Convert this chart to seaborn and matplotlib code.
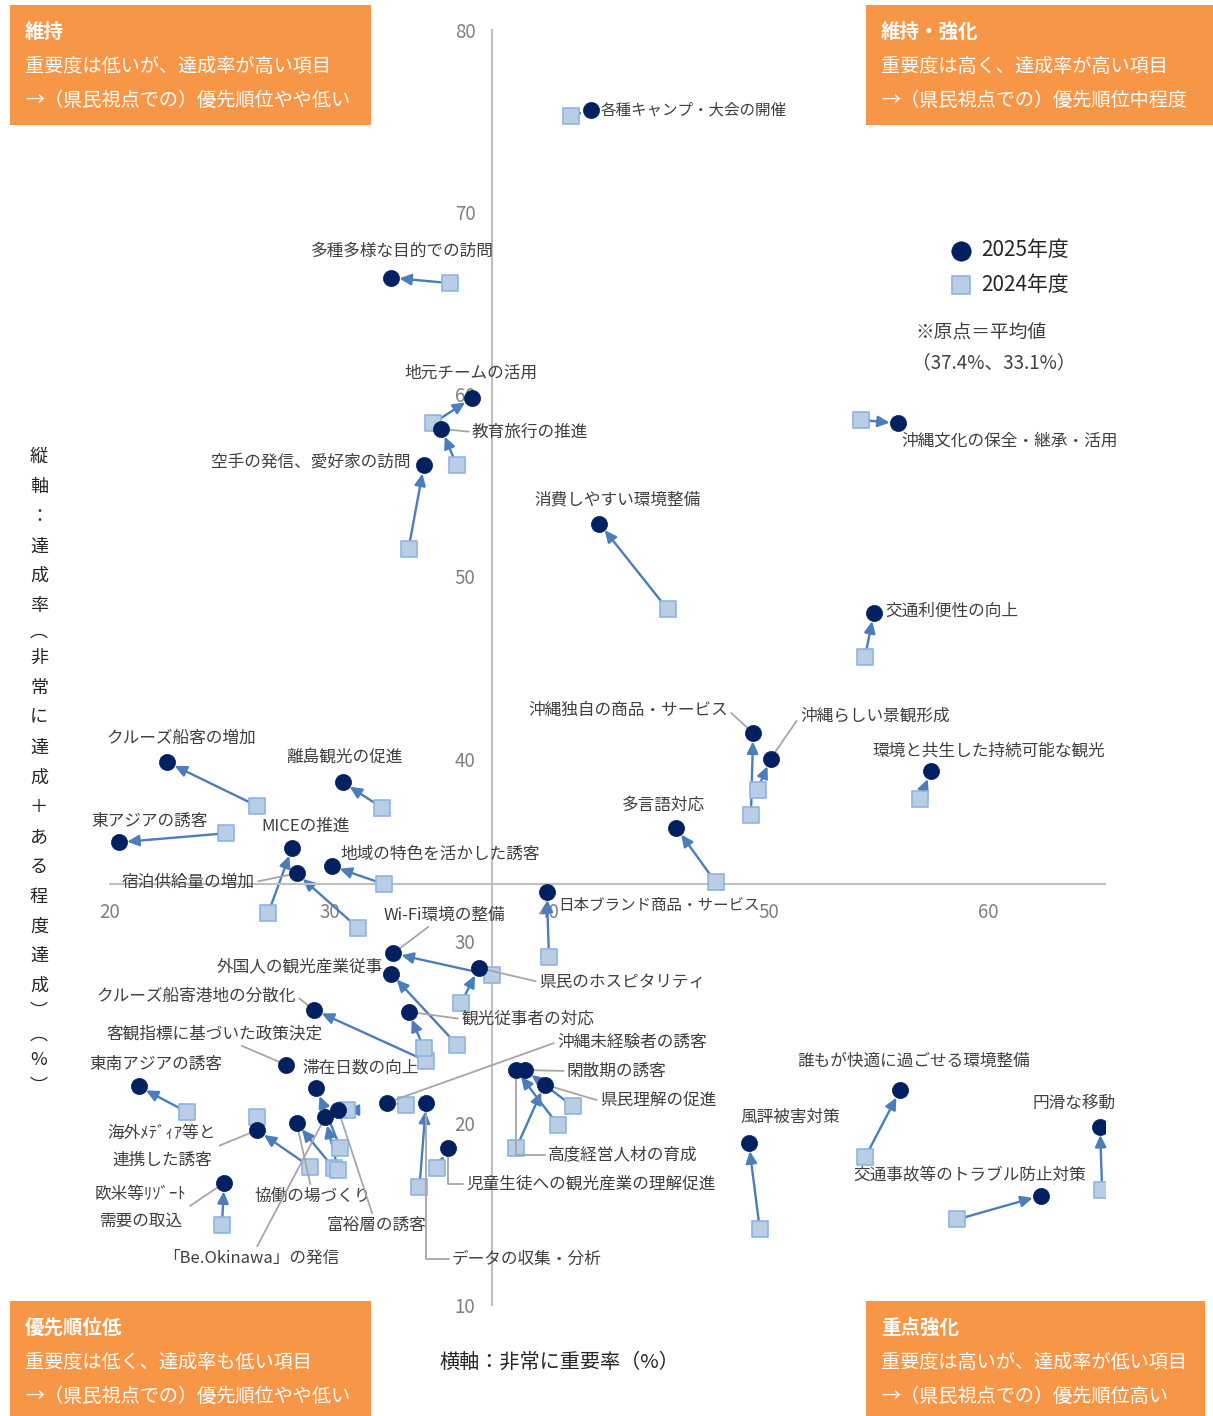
import numpy as np
import pandas as pd
import seaborn as sns
import matplotlib.pyplot as plt
from matplotlib.patches import Rectangle

W, H = 1213, 1416

# --- data -------------------------------------------------------------
items = [
    "各種キャンプ・大会の開催", "多種多様な目的での訪問", "地元チームの活用", "教育旅行の推進",
    "空手の発信、愛好家の訪問", "消費しやすい環境整備", "沖縄文化の保全・継承・活用", "交通利便性の向上",
    "沖縄独自の商品・サービス", "沖縄らしい景観形成", "環境と共生した持続可能な観光", "多言語対応",
    "日本ブランド商品・サービス", "クルーズ船客の増加", "離島観光の促進", "東アジアの誘客",
    "MICEの推進", "宿泊供給量の増加", "地域の特色を活かした誘客", "Wi-Fi環境の整備",
    "外国人の観光産業従事", "県民のホスピタリティ", "クルーズ船寄港地の分散化", "観光従事者の対応",
    "客観指標に基づいた政策決定", "滞在日数の向上", "沖縄未経験者の誘客", "閑散期の誘客",
    "県民理解の促進", "高度経営人材の育成", "東南アジアの誘客", "海外ﾒﾃﾞｨｱ等と\n連携した誘客",
    "協働の場づくり", "富裕層の誘客", "「Be.Okinawa」の発信", "欧米等ﾘｿﾞｰﾄ\n需要の取込",
    "データの収集・分析", "児童生徒への観光産業の理解促進", "風評被害対策", "誰もが快適に過ごせる環境整備",
    "円滑な移動", "交通事故等のトラブル防止対策",
]
imp_2025 = [41.9, 32.8, 36.5, 35.1, 34.3, 42.3, 55.9, 54.8, 49.3, 50.1, 57.4, 45.8,
            39.9, 22.6, 30.6, 20.4, 28.3, 28.5, 30.1, 32.9, 32.8, 36.8, 29.3, 33.6,
            28.0, 29.4, 32.6, 38.9, 39.8, 38.5, 21.3, 26.7, 28.5, 30.4, 29.8, 25.2,
            34.4, 35.4, 49.1, 56.0, 65.1, 62.4]
ach_2025 = [75.6, 66.4, 59.8, 58.1, 56.1, 52.9, 58.4, 48.0, 41.4, 40.0, 39.3, 36.2,
            32.7, 39.8, 38.7, 35.4, 35.1, 33.7, 34.1, 29.3, 28.2, 28.5, 26.2, 26.1,
            23.2, 21.9, 21.1, 22.9, 22.1, 22.9, 22.0, 19.6, 20.0, 20.7, 20.3, 16.7,
            21.1, 18.6, 18.9, 21.8, 19.8, 16.0]
imp_2024 = [41.0, 35.5, 34.7, 35.8, 33.6, 45.4, 54.2, 54.4, 49.2, 49.5, 56.9, 47.6,
            40.0, 26.7, 32.4, 25.3, 27.2, 31.3, 32.5, 37.4, 35.8, 36.0, 34.4, 34.3,
            26.7, 30.5, 33.5, 41.1, 38.5, 40.4, 23.5, 29.1, 30.2, 30.8, 30.4, 25.1,
            34.1, 34.9, 49.6, 54.4, 65.2, 58.6]
ach_2024 = [75.3, 66.1, 58.4, 56.1, 51.5, 48.2, 58.6, 45.6, 36.9, 38.3, 37.8, 33.2,
            29.1, 37.4, 37.3, 35.9, 31.5, 30.7, 33.1, 28.1, 24.3, 26.6, 23.4, 24.1,
            20.3, 18.6, 21.0, 20.9, 18.6, 19.9, 20.6, 17.6, 17.5, 20.7, 17.4, 14.4,
            16.5, 17.5, 14.2, 18.1, 16.3, 14.7]
no_arrow = ["客観指標に基づいた政策決定"]
avg_x, avg_y = 37.4, 33.1

# label placement in figure pixels (from top): x, y, ha, leader relpos, elbow
ELB = "angle,angleA=0,angleB=90,rad=0"
label_layout = [
    (601, 110, "left", None, None), (402, 251, "center", None, None),
    (471, 373, "center", None, None), (472, 432, "left", (0, 0.5), None),
    (410, 462, "right", None, None), (618, 500, "center", None, None),
    (901, 441, "left", None, None), (885, 611, "left", None, None),
    (728, 710, "right", (1, 0.5), None), (800, 716, "left", (0, 0.5), None),
    (872, 751, "left", None, None), (622, 805, "left", None, None),
    (558, 905, "left", None, None), (106, 738, "left", None, None),
    (286, 757, "left", None, None), (91, 821, "left", None, None),
    (261, 826, "left", None, None), (255, 882, "right", (1, 0.5), None),
    (340, 854, "left", None, None), (444, 915, "center", (0.5, 0.5), None),
    (383, 967, "right", None, None), (539, 982, "left", (0, 0.5), None),
    (296, 996, "right", (1, 0.5), None), (461, 1019, "left", (0, 0.5), None),
    (214, 1034, "center", (0.5, 0.5), None), (302, 1068, "left", None, None),
    (557, 1042, "left", (0, 0.5), None), (567, 1071, "left", (0, 0.5), None),
    (600, 1101, "left", (0, 0.5), None), (548, 1155, "left", (0, 0.5), ELB),
    (89, 1064, "left", None, None), (162, 1147, "center", (1, 0.5), None),
    (313, 1196, "center", (0.5, 0.5), None), (376, 1225, "center", (0.5, 0.5), None),
    (251, 1258, "center", (0.5, 0.5), None), (141, 1208, "center", (1, 0.5), None),
    (452, 1259, "left", (0, 0.5), ELB), (466, 1184, "left", (0, 0.5), ELB),
    (740, 1117, "left", None, None), (797, 1061, "left", None, None),
    (1032, 1103, "left", None, None), (853, 1176, "left", None, None),
]
small_labels = ["日本ブランド商品・サービス", "各種キャンプ・大会の開催"]

sns.set_style("white")
plt.rcParams['font.family'] = ['Noto Sans CJK JP', 'DejaVu Sans']

df25 = pd.DataFrame({"item": items, "x": imp_2025, "y": ach_2025})
df24 = pd.DataFrame({"item": items, "x": imp_2024, "y": ach_2024})

fig = plt.figure(figsize=(W / 100, H / 100), dpi=100)
ax = fig.add_axes([110 / W, 1 - 1305 / H, 995 / W, 1275 / H])
ax.set_xlim(20, 65.33)
ax.set_ylim(10, 80)

# arrows 2024 -> 2025
for i, name in enumerate(items):
    if name in no_arrow:
        continue
    ax.annotate("", xy=(imp_2025[i], ach_2025[i]), xytext=(imp_2024[i], ach_2024[i]),
                arrowprops=dict(arrowstyle="-|>,head_length=0.7,head_width=0.33",
                                color="#4A7EBB", lw=1.7, shrinkA=0, shrinkB=6),
                zorder=2)

sns.scatterplot(data=df24, x="x", y="y", marker="s", s=120, color="#B9CDE5",
                edgecolor="#8EB4E3", linewidth=1.2, zorder=3, label="2024年度", ax=ax)
sns.scatterplot(data=df25, x="x", y="y", marker="o", s=135, color="#002060",
                edgecolor="#002060", linewidth=0.5, zorder=4, label="2025年度", ax=ax)

# point labels
for i, name in enumerate(items):
    lx, ly, ha, rel, conn = label_layout[i]
    props = None
    if rel is not None:
        props = dict(arrowstyle="-", color="#A6A6A6", lw=1.3, shrinkA=0, shrinkB=0,
                     relpos=rel)
        if conn:
            props["connectionstyle"] = conn
    ax.annotate(name, xy=(imp_2025[i], ach_2025[i]), xytext=(lx, H - ly),
                textcoords="figure pixels", ha=ha, va="center", multialignment="center",
                fontsize=11.2 if name in small_labels else 12, color="#404040",
                linespacing=1.75, arrowprops=props, zorder=3.5, annotation_clip=False)

# axes through the average point
for s in ["top", "right"]:
    ax.spines[s].set_visible(False)
ax.spines["left"].set_position(("data", avg_x))
ax.spines["bottom"].set_position(("data", avg_y))
for s in ["left", "bottom"]:
    ax.spines[s].set_color("#BFBFBF")
    ax.spines[s].set_linewidth(1.5)
ax.set_xticks([20, 30, 40, 50, 60])
ax.set_yticks(np.arange(10, 81, 10))
ax.tick_params(axis="both", length=0, labelcolor="#7F7F7F", labelsize=13.5)
ax.tick_params(axis="y", pad=12)
ax.tick_params(axis="x", pad=13)
ax.set_xlabel("")
ax.set_ylabel("")

# legend
handles, labels = ax.get_legend_handles_labels()
order = [labels.index("2025年度"), labels.index("2024年度")]
ax.legend([handles[k] for k in order], [labels[k] for k in order],
          loc="upper left", bbox_to_anchor=(951 / W, 1 - 239 / H),
          bbox_transform=fig.transFigure, frameon=False, fontsize=15,
          handlelength=1.0, handletextpad=0.45, labelspacing=0.62, borderpad=0,
          borderaxespad=0, markerscale=1.2)

fig.text(915 / W, 1 - 333 / H, "※原点＝平均値", va="center", fontsize=13.5, color="#404040")
fig.text(912 / W, 1 - 363 / H, "（37.4%、33.1%）", va="center", fontsize=13.5, color="#404040")

# axis titles
fig.text(439 / W, 1 - 1362 / H, "横軸：非常に重要率（%）", va="center", fontsize=14.5,
         color="#262626")
ylab = "縦軸：達成率︵非常に達成＋ある程度達成︶︵%︶"
ypos, prev_w = 457.0, None
for ch in ylab:
    w = 0.75 if ch in "︵︶" else 1.0
    if prev_w is not None:
        ypos += (prev_w + w) / 2 * 29.8
    fig.text(39 / W, 1 - ypos / H, ch, ha="center", va="center", fontsize=13,
             color="#262626")
    prev_w = w

# quadrant boxes
boxes = [
    ((10, 5, 361, 120), 25, ["維持", "重要度は低いが、達成率が高い項目", "→（県民視点での）優先順位やや低い"]),
    ((866, 5, 347, 120), 881, ["維持・強化", "重要度は高く、達成率が高い項目", "→（県民視点での）優先順位中程度"]),
    ((10, 1301, 361, 115), 25, ["優先順位低", "重要度は低く、達成率も低い項目", "→（県民視点での）優先順位やや低い"]),
    ((866, 1301, 339, 115), 881, ["重点強化", "重要度は高いが、達成率が低い項目", "→（県民視点での）優先順位高い"]),
]
for (bx, by, bw, bh), tx, lines in boxes:
    fig.patches.append(Rectangle((bx / W, 1 - (by + bh) / H), bw / W, bh / H,
                                 transform=fig.transFigure, facecolor="#F79646",
                                 edgecolor="none", zorder=0))
    for k, line in enumerate(lines):
        fig.text(tx / W, 1 - (by + 27 + k * 34) / H, line, va="center",
                 fontsize=14 if k == 0 else 13.8,
                 color="white", fontweight="bold" if k == 0 else "normal")

fig.savefig("out.png", dpi=100)
